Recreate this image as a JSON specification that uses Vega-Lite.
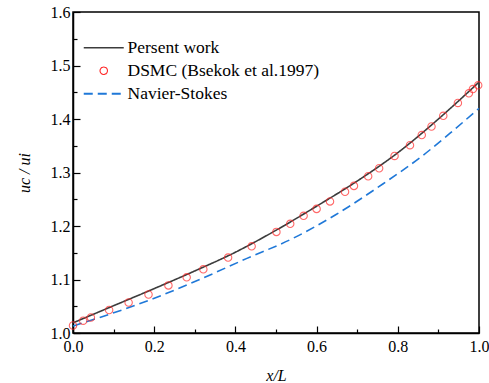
{
  "$schema": "https://vega.github.io/schema/vega-lite/v6.json",
  "autosize": "none",
  "width": 406,
  "height": 321,
  "padding": {"left": 73, "top": 12, "right": 10, "bottom": 50},
  "background": "white",
  "config": {
    "font": "Liberation Serif",
    "view": {"stroke": "black", "strokeWidth": 1.5},
    "legend": {"labelFont": "Liberation Serif", "labelFontSize": 17.5, "labelColor": "black", "labelLimit": 400},
    "axis": {
      "labelFont": "Liberation Serif",
      "titleFont": "Liberation Serif",
      "labelFontSize": 16,
      "titleFontSize": 16,
      "labelColor": "black",
      "titleColor": "black",
      "domainColor": "black",
      "domainWidth": 1.5,
      "tickColor": "black",
      "tickWidth": 1.2,
      "grid": false,
      "titleFontWeight": "normal",
      "titleFontStyle": "italic"
    }
  },
  "datasets": {
    "lines": [
      {"x": 0.0, "y": 1.019, "series": "Persent work"},
      {"x": 0.05, "y": 1.035, "series": "Persent work"},
      {"x": 0.1, "y": 1.051, "series": "Persent work"},
      {"x": 0.2, "y": 1.083, "series": "Persent work"},
      {"x": 0.3, "y": 1.116, "series": "Persent work"},
      {"x": 0.4, "y": 1.151, "series": "Persent work"},
      {"x": 0.5, "y": 1.192, "series": "Persent work"},
      {"x": 0.6, "y": 1.237, "series": "Persent work"},
      {"x": 0.7, "y": 1.284, "series": "Persent work"},
      {"x": 0.8, "y": 1.337, "series": "Persent work"},
      {"x": 0.9, "y": 1.400, "series": "Persent work"},
      {"x": 0.95, "y": 1.434, "series": "Persent work"},
      {"x": 1.0, "y": 1.469, "series": "Persent work"},
      {"x": 0.0, "y": 1.013, "series": "Navier-Stokes"},
      {"x": 0.066, "y": 1.029, "series": "Navier-Stokes"},
      {"x": 0.197, "y": 1.064, "series": "Navier-Stokes"},
      {"x": 0.312, "y": 1.100, "series": "Navier-Stokes"},
      {"x": 0.427, "y": 1.139, "series": "Navier-Stokes"},
      {"x": 0.542, "y": 1.177, "series": "Navier-Stokes"},
      {"x": 0.649, "y": 1.222, "series": "Navier-Stokes"},
      {"x": 0.764, "y": 1.279, "series": "Navier-Stokes"},
      {"x": 0.862, "y": 1.332, "series": "Navier-Stokes"},
      {"x": 0.928, "y": 1.373, "series": "Navier-Stokes"},
      {"x": 1.0, "y": 1.420, "series": "Navier-Stokes"}
    ],
    "dsmc": [
      {"x": 0.0, "y": 1.014, "series": "DSMC (Bsekok et al.1997)"},
      {"x": 0.025, "y": 1.023, "series": "DSMC (Bsekok et al.1997)"},
      {"x": 0.044, "y": 1.029, "series": "DSMC (Bsekok et al.1997)"},
      {"x": 0.089, "y": 1.043, "series": "DSMC (Bsekok et al.1997)"},
      {"x": 0.137, "y": 1.057, "series": "DSMC (Bsekok et al.1997)"},
      {"x": 0.186, "y": 1.072, "series": "DSMC (Bsekok et al.1997)"},
      {"x": 0.235, "y": 1.089, "series": "DSMC (Bsekok et al.1997)"},
      {"x": 0.280, "y": 1.104, "series": "DSMC (Bsekok et al.1997)"},
      {"x": 0.321, "y": 1.119, "series": "DSMC (Bsekok et al.1997)"},
      {"x": 0.382, "y": 1.141, "series": "DSMC (Bsekok et al.1997)"},
      {"x": 0.440, "y": 1.162, "series": "DSMC (Bsekok et al.1997)"},
      {"x": 0.501, "y": 1.189, "series": "DSMC (Bsekok et al.1997)"},
      {"x": 0.535, "y": 1.204, "series": "DSMC (Bsekok et al.1997)"},
      {"x": 0.568, "y": 1.219, "series": "DSMC (Bsekok et al.1997)"},
      {"x": 0.600, "y": 1.232, "series": "DSMC (Bsekok et al.1997)"},
      {"x": 0.633, "y": 1.246, "series": "DSMC (Bsekok et al.1997)"},
      {"x": 0.670, "y": 1.264, "series": "DSMC (Bsekok et al.1997)"},
      {"x": 0.692, "y": 1.275, "series": "DSMC (Bsekok et al.1997)"},
      {"x": 0.727, "y": 1.293, "series": "DSMC (Bsekok et al.1997)"},
      {"x": 0.754, "y": 1.308, "series": "DSMC (Bsekok et al.1997)"},
      {"x": 0.792, "y": 1.331, "series": "DSMC (Bsekok et al.1997)"},
      {"x": 0.830, "y": 1.351, "series": "DSMC (Bsekok et al.1997)"},
      {"x": 0.859, "y": 1.370, "series": "DSMC (Bsekok et al.1997)"},
      {"x": 0.883, "y": 1.386, "series": "DSMC (Bsekok et al.1997)"},
      {"x": 0.912, "y": 1.406, "series": "DSMC (Bsekok et al.1997)"},
      {"x": 0.948, "y": 1.430, "series": "DSMC (Bsekok et al.1997)"},
      {"x": 0.975, "y": 1.448, "series": "DSMC (Bsekok et al.1997)"},
      {"x": 0.985, "y": 1.456, "series": "DSMC (Bsekok et al.1997)"},
      {"x": 0.998, "y": 1.463, "series": "DSMC (Bsekok et al.1997)"}
    ]
  },
  "encoding": {
    "x": {
      "field": "x", "type": "quantitative",
      "scale": {"domain": [0, 1], "nice": false, "zero": false},
      "axis": {
        "title": "x/L",
        "values": [0, 0.1, 0.2, 0.3, 0.4, 0.5, 0.6, 0.7, 0.8, 0.9, 1.0],
        "labelExpr": "round(datum.value*10) % 2 == 1 ? '' : format(datum.value, '.1f')",
        "tickSize": {"condition": {"test": "round(datum.value*10) % 2 == 1", "value": -4}, "value": -7},
        "labelPadding": 12,
        "titlePadding": 13,
        "labelFlush": false
      }
    },
    "y": {
      "field": "y", "type": "quantitative",
      "scale": {"domain": [1.0, 1.6], "nice": false, "zero": false},
      "axis": {
        "title": "uc / ui",
        "values": [1.0, 1.05, 1.1, 1.15, 1.2, 1.25, 1.3, 1.35, 1.4, 1.45, 1.5, 1.55, 1.6],
        "labelExpr": "round(datum.value*20) % 2 == 1 ? '' : format(datum.value, '.1f')",
        "tickSize": {"condition": {"test": "round(datum.value*20) % 2 == 1", "value": -4}, "value": -7},
        "labelPadding": 10,
        "titlePadding": 18,
        "labelFlush": false
      }
    }
  },
  "layer": [
    {
      "data": {"name": "lines"},
      "mark": {"type": "line", "interpolate": "monotone", "strokeWidth": 1.6},
      "encoding": {
        "color": {
          "field": "series", "type": "nominal",
          "scale": {
            "domain": ["Persent work", "DSMC (Bsekok et al.1997)", "Navier-Stokes"],
            "range": ["#3c3c3c", "#ff2a2a", "#1f78d8"]
          },
          "legend": {
            "title": null,
            "orient": "none",
            "legendX": 22,
            "legendY": 27,
            "labelFont": "Liberation Serif",
            "labelFontSize": 17.5,
            "labelColor": "black",
            "labelLimit": 400,
            "labelOffset": 15,
            "symbolSize": 1600,
            "rowPadding": 4,
            "symbolStrokeWidth": 1.6,
            "encode": {
              "symbols": {
                "update": {
                  "shape": {"signal": "datum.value == 'DSMC (Bsekok et al.1997)' ? 'circle' : 'stroke'"},
                  "size": {"signal": "datum.value == 'DSMC (Bsekok et al.1997)' ? 55 : 1600"},
                  "strokeDash": {"signal": "datum.value == 'Navier-Stokes' ? [9,5] : [1,0]"},
                  "strokeWidth": {"signal": "datum.value == 'DSMC (Bsekok et al.1997)' ? 1.1 : (datum.value == 'Navier-Stokes' ? 2 : 1.6)"},
                  "fill": {"value": "transparent"},
                  "stroke": {"scale": "color", "field": "value"}
                }
              }
            }
          }
        },
        "strokeDash": {
          "field": "series", "type": "nominal",
          "scale": {"domain": ["Persent work", "Navier-Stokes"], "range": [[1, 0], [9, 5]]},
          "legend": null
        },
        "strokeWidth": {
          "field": "series", "type": "nominal",
          "scale": {"domain": ["Persent work", "Navier-Stokes"], "range": [1.6, 2]},
          "legend": null
        }
      }
    },
    {
      "data": {"name": "dsmc"},
      "mark": {"type": "point", "shape": "circle", "filled": false, "size": 55, "strokeWidth": 1.1},
      "encoding": {
        "color": {"field": "series", "type": "nominal"}
      }
    }
  ]
}
